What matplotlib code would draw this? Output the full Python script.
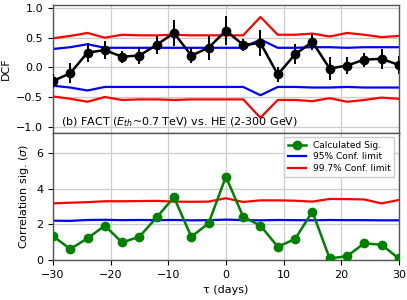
import numpy as np
import matplotlib
matplotlib.use("Agg")
import matplotlib.pyplot as plt

# time lags (days)
tau = [-30, -27, -24, -21, -18, -15, -12, -9, -6, -3, 0,
       3, 6, 9, 12, 15, 18, 21, 24, 27, 30]

# top panel: discrete correlation function
dcf = [-0.23, -0.10, 0.25, 0.29, 0.18, 0.20, 0.38, 0.58, 0.20, 0.33, 0.62,
       0.38, 0.41, -0.12, 0.22, 0.43, -0.02, 0.03, 0.13, 0.145, 0.04]
dcf_err = [0.12, 0.17, 0.16, 0.15, 0.10, 0.15, 0.15, 0.22, 0.12, 0.20, 0.24,
           0.10, 0.22, 0.13, 0.17, 0.14, 0.20, 0.14, 0.12, 0.17, 0.15]
conf95 = [0.31, 0.34, 0.39, 0.33, 0.33, 0.33, 0.33, 0.33, 0.33, 0.33, 0.33,
          0.33, 0.47, 0.33, 0.33, 0.34, 0.34, 0.33, 0.34, 0.34, 0.34]
conf997 = [0.49, 0.53, 0.58, 0.50, 0.55, 0.54, 0.54, 0.55, 0.54, 0.54, 0.54,
           0.54, 0.85, 0.55, 0.55, 0.57, 0.52, 0.58, 0.55, 0.51, 0.53]

# bottom panel: correlation significance
sig = [1.35, 0.62, 1.22, 1.93, 0.99, 1.31, 2.40, 3.52, 1.31, 2.06, 4.68,
       2.43, 1.93, 0.75, 1.18, 2.72, 0.09, 0.22, 0.94, 0.86, 0.09]
sig95 = [2.21, 2.20, 2.25, 2.26, 2.24, 2.25, 2.24, 2.25, 2.23, 2.24, 2.27,
         2.24, 2.23, 2.25, 2.24, 2.23, 2.25, 2.24, 2.24, 2.23, 2.23]
sig997 = [3.18, 3.22, 3.25, 3.30, 3.30, 3.31, 3.32, 3.28, 3.27, 3.28, 3.47,
          3.26, 3.35, 3.35, 3.33, 3.28, 3.43, 3.42, 3.40, 3.18, 3.37]

plt.rcParams["font.size"] = 8

fig, (ax1, ax2) = plt.subplots(2, 1, figsize=(4.07, 3.0), dpi=100, sharex=True)
fig.subplots_adjust(left=0.13, right=0.98, top=0.983, bottom=0.133, hspace=0)

t = np.array(tau)
c95 = np.array(conf95)
c997 = np.array(conf997)

ax1.plot(t, c997, color="red", lw=1.6)
ax1.plot(t, -c997, color="red", lw=1.6)
ax1.plot(t, c95, color="blue", lw=1.6)
ax1.plot(t, -c95, color="blue", lw=1.6)
ax1.errorbar(t, dcf, yerr=dcf_err, color="black", marker="o", ms=6,
             lw=1.8, elinewidth=1.4, capsize=0, zorder=5)
ax1.set_ylim(-1.1, 1.05)
ax1.set_yticks([-1.0, -0.5, 0.0, 0.5, 1.0])
ax1.set_ylabel("DCF")
ax1.text(0.022, 0.03, r"(b) FACT ($E_{th}$~0.7 TeV) vs. HE (2-300 GeV)",
         transform=ax1.transAxes, fontsize=8, va="bottom")

ax2.plot(t, sig, color="green", marker="o", ms=6, lw=1.8,
         label="Calculated Sig.", zorder=5)
ax2.plot(t, sig95, color="blue", lw=1.6, label="95% Conf. limit")
ax2.plot(t, sig997, color="red", lw=1.6, label="99.7% Conf. limit")
ax2.set_ylim(0, 7.15)
ax2.set_yticks([0, 2, 4, 6])
ax2.set_xlim(-30, 30)
ax2.set_xticks([-30, -20, -10, 0, 10, 20, 30])
ax2.set_ylabel(r"Correlation sig. ($\sigma$)")
ax2.set_xlabel("τ (days)")
ax2.legend(loc="upper right", fontsize=6.5, framealpha=1, borderpad=0.4,
           labelspacing=0.3, handlelength=2.0)

for ax in (ax1, ax2):
    ax.grid(True, color="#cccccc", lw=0.9)
    ax.set_axisbelow(True)
    for s in ax.spines.values():
        s.set_color("#555555")
        s.set_linewidth(1.0)

fig.savefig("out.png", dpi=100)
